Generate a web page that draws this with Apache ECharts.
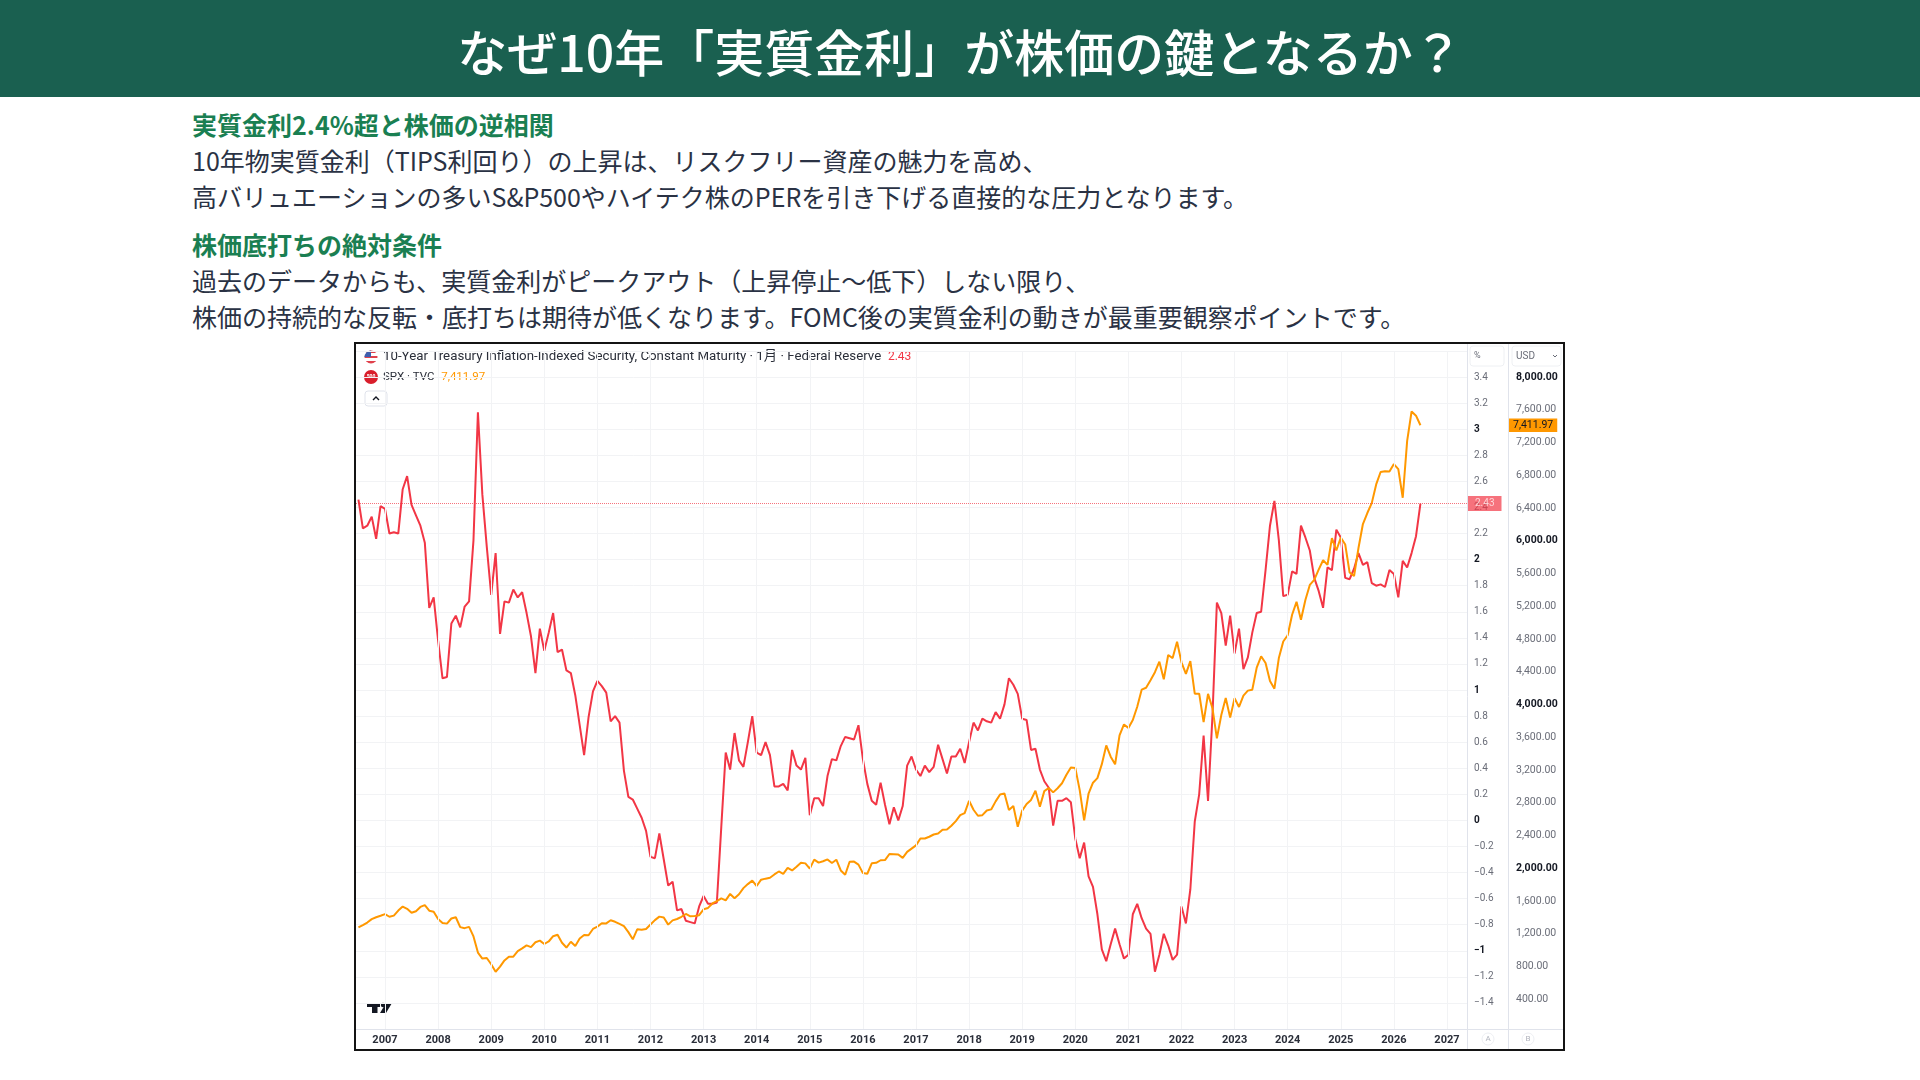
<!DOCTYPE html>
<html>
<head lang="ja">
    <meta charset="UTF-8">
    <title>なぜ10年「実質金利」が株価の鍵となるか？</title>
    <style>
        html, body { margin: 0; padding: 0; width: 1920px; height: 1080px; background: #fff; overflow: hidden;
            font-family: "Noto Sans CJK JP", "Noto Sans", sans-serif; }
        .header { position: absolute; left: 0; top: 0; width: 1920px; height: 97px; background: #1a6050; }
        .header h1 { margin: 0; padding-top: 3px; color: #fff; font-size: 50px; font-weight: 500; line-height: 94px; text-align: center; }
        .line { position: absolute; left: 192px; font-size: 25px; line-height: 34px; color: #2a3244; white-space: nowrap; }
        .head { color: #1a7f52; font-weight: 700; }
        #frame { position: absolute; left: 354px; top: 342px; width: 1207px; height: 705px; border: 2px solid #141414; }
        #container { width: 1207px; height: 705px; }
    </style>
</head>
<body>
<div class="header"><h1>なぜ10年「実質金利」が株価の鍵となるか？</h1></div>
<div class="line head" style="top:107px">実質金利2.4%超と株価の逆相関</div>
<div class="line" style="top:143px">10年物実質金利（TIPS利回り）の上昇は、リスクフリー資産の魅力を高め、</div>
<div class="line" style="top:179px">高バリュエーションの多いS&amp;P500やハイテク株のPERを引き下げる直接的な圧力となります。</div>
<div class="line head" style="top:227px">株価底打ちの絶対条件</div>
<div class="line" style="top:263px">過去のデータからも、実質金利がピークアウト（上昇停止～低下）しない限り、</div>
<div class="line" style="top:299px">株価の持続的な反転・底打ちは期待が低くなります。FOMC後の実質金利の動きが最重要観察ポイントです。</div>
<div id="frame"><div id="container"></div></div>

<script type="text/javascript" src="https://cdn.jsdelivr.net/npm/echarts@6.0.0/dist/echarts.min.js"></script>
<script type="text/javascript">
    // monthly values, Jul 2006 .. Jul 2026
    var tipsYield = [
        2.46, 2.24, 2.26, 2.33, 2.16, 2.41,
        2.39, 2.20, 2.21, 2.20, 2.54, 2.64, 2.42, 2.34, 2.26, 2.13, 1.63, 1.71,
        1.38, 1.09, 1.10, 1.51, 1.57, 1.48, 1.64, 1.68, 2.15, 3.13, 2.50, 2.10,
        1.73, 2.05, 1.43, 1.68, 1.67, 1.77, 1.71, 1.75, 1.59, 1.41, 1.13, 1.47,
        1.30, 1.44, 1.59, 1.29, 1.31, 1.15, 1.13, 0.96, 0.73, 0.50, 0.79, 0.99,
        1.07, 1.03, 0.98, 0.76, 0.80, 0.75, 0.38, 0.18, 0.16, 0.09, 0.02, -0.08,
        -0.28, -0.29, -0.10, -0.30, -0.50, -0.47, -0.69, -0.68, -0.77, -0.78, -0.79, -0.66,
        -0.58, -0.64, -0.64, -0.63, -0.05, 0.52, 0.39, 0.67, 0.46, 0.41, 0.60, 0.80,
        0.52, 0.50, 0.60, 0.50, 0.26, 0.26, 0.28, 0.23, 0.54, 0.42, 0.39, 0.48,
        0.04, 0.17, 0.17, 0.11, 0.34, 0.47, 0.46, 0.57, 0.64, 0.63, 0.62, 0.73,
        0.47, 0.28, 0.15, 0.12, 0.29, 0.12, -0.03, 0.10, 0.00, 0.11, 0.42, 0.49,
        0.39, 0.34, 0.42, 0.37, 0.41, 0.58, 0.47, 0.36, 0.49, 0.49, 0.55, 0.44,
        0.60, 0.75, 0.69, 0.78, 0.76, 0.75, 0.83, 0.78, 0.89, 1.09, 1.04, 0.97,
        0.78, 0.77, 0.54, 0.55, 0.39, 0.30, 0.25, -0.04, 0.15, 0.15, 0.17, 0.14,
        -0.14, -0.29, -0.17, -0.43, -0.51, -0.72, -0.99, -1.08, -0.95, -0.83, -0.95, -1.06,
        -1.03, -0.72, -0.64, -0.75, -0.83, -0.87, -1.16, -1.03, -0.87, -0.96, -1.07, -1.03,
        -0.66, -0.79, -0.53, -0.01, 0.20, 0.65, 0.15, 0.80, 1.67, 1.59, 1.34, 1.57,
        1.28, 1.47, 1.16, 1.25, 1.44, 1.59, 1.60, 1.92, 2.26, 2.45, 2.15, 1.72,
        1.73, 1.91, 1.89, 2.26, 2.17, 2.07, 1.86, 1.76, 1.63, 1.94, 1.92, 2.23,
        2.17, 1.86, 1.85, 1.93, 2.05, 1.96, 1.98, 1.82, 1.80, 1.81, 1.79, 1.92,
        1.89, 1.71, 1.99, 1.94, 2.05, 2.18, 2.43
    ];
    var spxClose = [
        1276.7, 1303.8, 1335.9, 1377.9, 1400.6, 1418.3,
        1438.2, 1406.8, 1420.9, 1482.4, 1530.6, 1503.4, 1455.3, 1474.0, 1526.8, 1549.4, 1481.1, 1468.4,
        1378.6, 1330.6, 1322.7, 1385.6, 1400.4, 1280.0, 1267.4, 1282.8, 1166.4, 968.8, 896.2, 903.3,
        825.9, 735.1, 797.9, 872.8, 919.1, 919.3, 987.5, 1020.6, 1057.1, 1036.2, 1095.6, 1115.1,
        1073.9, 1104.5, 1169.4, 1186.7, 1089.4, 1030.7, 1101.6, 1049.3, 1141.2, 1183.3, 1180.6, 1257.6,
        1286.1, 1327.2, 1325.8, 1363.6, 1345.2, 1320.6, 1292.3, 1218.9, 1131.4, 1253.3, 1247.0, 1257.6,
        1312.4, 1365.7, 1408.5, 1397.9, 1310.3, 1362.2, 1379.3, 1406.6, 1440.7, 1412.2, 1416.2, 1426.2,
        1498.1, 1514.7, 1569.2, 1597.6, 1630.7, 1606.3, 1685.7, 1633.0, 1681.6, 1756.5, 1805.8, 1848.4,
        1782.6, 1859.5, 1872.3, 1884.0, 1923.6, 1960.2, 1930.7, 2003.4, 1972.3, 2018.1, 2067.6, 2058.9,
        1995.0, 2104.5, 2067.9, 2085.5, 2107.4, 2063.1, 2103.8, 1972.2, 1920.0, 2079.4, 2080.4, 2043.9,
        1940.2, 1932.2, 2059.7, 2065.3, 2097.0, 2098.9, 2173.6, 2171.0, 2168.3, 2126.2, 2198.8, 2238.8,
        2278.9, 2363.6, 2362.7, 2384.2, 2411.8, 2423.4, 2470.3, 2471.7, 2519.4, 2575.3, 2647.6, 2673.6,
        2823.8, 2713.8, 2640.9, 2648.1, 2705.3, 2718.4, 2816.3, 2901.5, 2914.0, 2711.7, 2760.2, 2506.9,
        2704.1, 2784.5, 2834.4, 2945.8, 2752.1, 2941.8, 2980.4, 2926.5, 2976.7, 3037.6, 3141.0, 3230.8,
        3225.5, 2954.2, 2584.6, 2912.4, 3044.3, 3100.3, 3271.1, 3500.3, 3363.0, 3270.0, 3621.6, 3756.1,
        3714.2, 3811.2, 3972.9, 4181.2, 4204.1, 4297.5, 4395.3, 4522.7, 4307.5, 4605.4, 4567.0, 4766.2,
        4515.6, 4373.9, 4530.4, 4131.9, 4132.2, 3785.4, 4130.3, 3955.0, 3585.6, 3872.0, 4080.1, 3839.5,
        4076.6, 3970.2, 4109.3, 4169.5, 4179.8, 4450.4, 4589.0, 4507.7, 4288.1, 4193.8, 4567.8, 4769.8,
        4845.7, 5096.3, 5254.4, 5035.7, 5277.5, 5460.5, 5522.3, 5648.4, 5762.5, 5705.5, 6032.4, 5881.6,
        6040.5, 5954.5, 5611.9, 5569.1, 5911.7, 6205.0, 6339.4, 6460.3, 6688.5, 6840.2, 6849.1, 6845.5,
        6937.0, 6875.0, 6526.0, 7220.0, 7580.0, 7529.0, 7411.97
    ];
    var yearTicks = [2007, 2008, 2009, 2010, 2011, 2012, 2013, 2014, 2015, 2016, 2017,
        2018, 2019, 2020, 2021, 2022, 2023, 2024, 2025, 2026, 2027];
    var usdTicks = [400, 800, 1200, 1600, 2000, 2400, 2800, 3200, 3600, 4000, 4400,
        4800, 5200, 5600, 6000, 6400, 6800, 7200, 7600, 8000];
    var tipsLast = 2.43;
    var spxLast = 7411.97;

    var firstMonth = 2006 + 6 / 12;
    function monthly(arr) {
        return arr.map(function (v, k) { return [firstMonth + k / 12, v]; });
    }
    function pctLabel(v) {
        var r = Math.round(v * 10) / 10;
        if (r > 3.5 || r < -1.5) return '';
        var s = Math.abs(r) < 1e-9 ? '0' : String(Math.abs(r));
        if (r < 0) s = '\u2212' + s;
        return Number.isInteger(r) ? '{b|' + s + '}' : s;
    }
    function usdLabel(v) {
        var s = v.toLocaleString('en-US', {minimumFractionDigits: 2, maximumFractionDigits: 2});
        return v % 2000 === 0 ? '{b|' + s + '}' : s;
    }

    var RED = '#f23645', ORANGE = '#ff9800', SEP = '#e0e3eb';
    var dom = document.getElementById('container');
    var myChart = echarts.init(dom);
    var option = {
        animation: false,
        textStyle: {fontFamily: 'Roboto, "Noto Sans CJK JP", sans-serif'},
        grid: {left: 0, top: 7, width: 1111, height: 678},
        xAxis: {
            type: 'value', min: 2006.454, max: 2027.377,
            axisLine: {show: true, onZero: false, lineStyle: {color: SEP}},
            axisTick: {show: false},
            splitLine: {show: false},
            axisLabel: {
                customValues: yearTicks, margin: 6, fontSize: 11, fontWeight: 'bold', color: '#2a2e39',
                formatter: function (v) { return String(Math.round(v)); }
            }
        },
        yAxis: [{
            type: 'value', position: 'right', min: -1.6, max: 3.6, interval: 0.2,
            axisLine: {show: false}, axisTick: {show: false},
            splitLine: {lineStyle: {color: '#f2f3f5'}},
            axisLabel: {
                margin: 7, fontSize: 10, color: '#6a6d78', formatter: pctLabel,
                rich: {b: {fontSize: 10, fontWeight: 'bold', color: '#131722'}}
            }
        }, {
            type: 'value', position: 'right', offset: 49, min: 35.4, max: 8318.9,
            axisLine: {show: false}, axisTick: {show: false}, splitLine: {show: false},
            axisLabel: {
                customValues: usdTicks, margin: 0, fontSize: 10.5, color: '#6a6d78', formatter: usdLabel,
                rich: {b: {fontSize: 10.5, fontWeight: 'bold', color: '#131722'}}
            }
        }],
        series: [{
            name: 'grid',
            type: 'line', data: monthly(tipsYield), showSymbol: false, silent: true, z: 1,
            lineStyle: {opacity: 0},
            markLine: {
                silent: true, symbol: 'none', label: {show: false},
                lineStyle: {color: '#f2f3f5', width: 1, type: 'solid'},
                data: yearTicks.map(function (y) { return {xAxis: y}; })
            }
        }, {
            name: '10-Year TIPS',
            type: 'line', data: monthly(tipsYield), showSymbol: false, z: 3,
            lineStyle: {color: RED, width: 2}, itemStyle: {color: RED},
            markLine: {
                silent: true, symbol: 'none',
                lineStyle: {color: RED, width: 1, type: 'dotted', opacity: 0.7},
                label: {
                    position: 'end', distance: 1, formatter: tipsLast.toFixed(2),
                    backgroundColor: RED, color: '#fff', fontSize: 10, padding: [3, 7, 2, 7]
                },
                data: [{yAxis: tipsLast}]
            }
        }, {
            name: 'SPX',
            type: 'line', yAxisIndex: 1, data: monthly(spxClose), showSymbol: false, z: 4,
            lineStyle: {color: ORANGE, width: 2}, itemStyle: {color: ORANGE},
            markLine: {
                silent: true, symbol: 'none',
                lineStyle: {color: 'rgba(255,152,0,0)', width: 0},
                label: {
                    show: true, position: 'end', distance: 42, formatter: '7,411.97',
                    backgroundColor: ORANGE, color: '#131722', fontSize: 10.5, padding: [2, 4, 1, 4]
                },
                data: [{yAxis: spxLast}]
            }
        }],
        graphic: [
            // axis column separators
            {type: 'line', shape: {x1: 1111.5, y1: 0, x2: 1111.5, y2: 705}, style: {stroke: SEP, lineWidth: 1}, silent: true},
            {type: 'line', shape: {x1: 1152.5, y1: 0, x2: 1152.5, y2: 705}, style: {stroke: SEP, lineWidth: 1}, silent: true},
            {type: 'line', shape: {x1: 1111, y1: 685.5, x2: 1207, y2: 685.5}, style: {stroke: SEP, lineWidth: 1}, silent: true},
            {type: 'rect', shape: {x: 1114, y: 2, width: 34, height: 20, r: 3}, style: {fill: '#fff', stroke: '#eef0f3'}, silent: true},
            {type: 'text', x: 1118, y: 12, style: {text: '%', fill: '#6a6d78', font: '9px Roboto', verticalAlign: 'middle'}, silent: true},
            {type: 'rect', shape: {x: 1156, y: 2, width: 49, height: 20, r: 3}, style: {fill: '#fff', stroke: '#eef0f3'}, silent: true},
            {type: 'text', x: 1160, y: 12, style: {text: 'USD', fill: '#6a6d78', font: '10px Roboto', verticalAlign: 'middle'}, silent: true},
            {type: 'polyline', shape: {points: [[1197, 11], [1199, 13], [1201, 11]]}, style: {stroke: '#6a6d78', lineWidth: 1}, silent: true},
            {type: 'circle', shape: {cx: 1132, cy: 695, r: 6}, style: {fill: '#fff', stroke: '#eceef2'}, silent: true},
            {type: 'text', x: 1132, y: 695, style: {text: 'A', fill: '#b2b5be', font: '8px Roboto', align: 'center', verticalAlign: 'middle'}, silent: true},
            {type: 'circle', shape: {cx: 1172, cy: 695, r: 6}, style: {fill: '#fff', stroke: '#eceef2'}, silent: true},
            {type: 'text', x: 1172, y: 695, style: {text: 'B', fill: '#b2b5be', font: '8px Roboto', align: 'center', verticalAlign: 'middle'}, silent: true},
            // legend: flag icon
            {type: 'circle', shape: {cx: 15, cy: 13, r: 6.5}, silent: true, style: {
                fill: {type: 'linear', x: 0, y: 0, x2: 0, y2: 1, colorStops: [
                    {offset: 0, color: '#e0404b'}, {offset: 0.2, color: '#e0404b'},
                    {offset: 0.2, color: '#ffffff'}, {offset: 0.4, color: '#ffffff'},
                    {offset: 0.4, color: '#e0404b'}, {offset: 0.6, color: '#e0404b'},
                    {offset: 0.6, color: '#ffffff'}, {offset: 0.8, color: '#ffffff'},
                    {offset: 0.8, color: '#e0404b'}, {offset: 1, color: '#e0404b'}]}
            }},
            {type: 'sector', shape: {cx: 15, cy: 13, r: 6.5, r0: 0, startAngle: Math.PI, endAngle: Math.PI * 1.5, clockwise: true},
                style: {fill: '#3f5fae'}, silent: true},
            {type: 'text', x: 27, y: 13, silent: true, style: {
                text: '{a|10-Year Treasury Inflation-Indexed Security, Constant Maturity · 1月 · Federal Reserve}  {r|2.43}',
                verticalAlign: 'middle',
                rich: {
                    a: {fill: '#2a2e39', font: '13.3px Roboto, "Noto Sans CJK JP"'},
                    r: {fill: RED, font: '12px Roboto'}
                }
            }},
            // legend: SPX icon
            {type: 'circle', shape: {cx: 15, cy: 33, r: 7}, style: {fill: '#d91e2b'}, silent: true},
            {type: 'text', x: 15, y: 33, style: {text: '500', fill: '#fff', font: 'bold 5px Roboto', align: 'center', verticalAlign: 'middle'}, silent: true},
            {type: 'text', x: 27, y: 33, silent: true, style: {
                text: '{a|SPX · TVC}  {o|7,411.97}',
                verticalAlign: 'middle',
                rich: {
                    a: {fill: '#2a2e39', font: '11.5px Roboto'},
                    o: {fill: ORANGE, font: '11.5px Roboto'}
                }
            }},
            // collapse button
            {type: 'rect', shape: {x: 9, y: 47, width: 22, height: 15, r: 3}, style: {fill: '#fff', stroke: '#e0e3eb'}, silent: true},
            {type: 'polyline', shape: {points: [[17, 56], [20, 53], [23, 56]]}, style: {stroke: '#131722', lineWidth: 1.4}, silent: true},
            // TradingView logo
            {type: 'rect', shape: {x: 11, y: 659, width: 13, height: 4}, style: {fill: '#131722'}, silent: true},
            {type: 'rect', shape: {x: 16, y: 659, width: 5.5, height: 10}, style: {fill: '#131722'}, silent: true},
            {type: 'circle', shape: {cx: 27, cy: 661, r: 2.2}, style: {fill: '#131722'}, silent: true},
            {type: 'polygon', shape: {points: [[30, 659], [36, 659], [30, 669], [24, 669]]}, style: {fill: '#131722'}, silent: true}
        ]
    };
    myChart.setOption(option);
</script>
</body>
</html>
